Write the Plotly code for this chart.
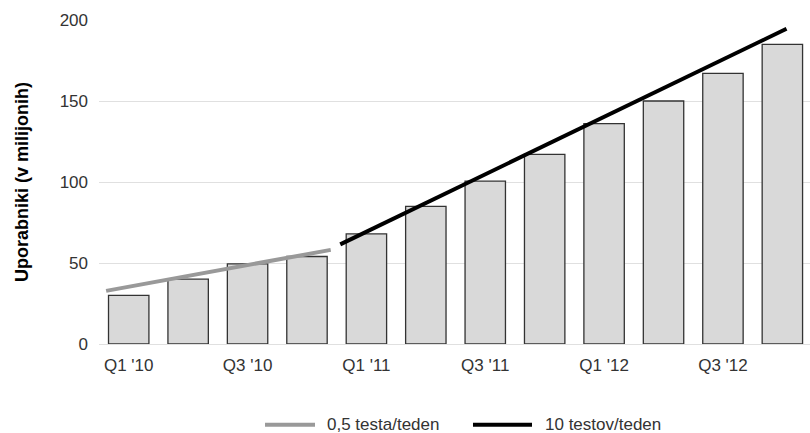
import plotly.graph_objects as go

quarters = ["Q1 '10", "Q2 '10", "Q3 '10", "Q4 '10",
            "Q1 '11", "Q2 '11", "Q3 '11", "Q4 '11",
            "Q1 '12", "Q2 '12", "Q3 '12", "Q4 '12"]
users = [30, 40, 49.5, 54, 68, 85, 100.5, 117, 136, 150, 167, 185]

# trend segments (quarter index, millions of users)
slow_name = "0,5 testa/teden"
slow_x = [-0.38, 3.40]
slow_y = [32.8, 58.1]
fast_name = "10 testov/teden"
fast_x = [3.56, 11.07]
fast_y = [61.5, 194.6]

tick_idx = list(range(0, len(quarters), 2))
tick_txt = [quarters[i] for i in tick_idx]

font = "Liberation Sans, Arial, sans-serif"
slow_color = "#999999"
fast_color = "#000000"

fig = go.Figure()
fig.add_trace(go.Bar(
    x=list(range(len(quarters))), y=users, width=0.68,
    marker=dict(color="#d9d9d9", line=dict(color="#333333", width=1.3)),
    showlegend=False, hoverinfo="skip",
))
fig.add_trace(go.Scatter(
    x=slow_x, y=slow_y, mode="lines", name=slow_name, showlegend=False,
    line=dict(color=slow_color, width=4),
))
fig.add_trace(go.Scatter(
    x=fast_x, y=fast_y, mode="lines", name=fast_name, showlegend=False,
    line=dict(color=fast_color, width=4),
))

# key below the plot: line sample + label for each trend
key_y = -0.249
for (x0, x1, tx, name, color) in [
    (0.2335, 0.3038, 0.318, slow_name, slow_color),
    (0.526, 0.609, 0.6245, fast_name, fast_color),
]:
    fig.add_shape(type="line", xref="paper", yref="paper",
                  x0=x0, x1=x1, y0=key_y, y1=key_y,
                  line=dict(color=color, width=4))
    fig.add_annotation(xref="paper", yref="paper", x=tx, y=key_y,
                       xanchor="left", yanchor="middle", showarrow=False,
                       text=name, font=dict(size=17, color="#333333"))

fig.update_layout(
    width=810, height=433,
    margin=dict(l=99, r=0, t=20, b=89, autoexpand=False),
    paper_bgcolor="white", plot_bgcolor="white",
    font=dict(family=font, size=16, color="#333333"),
    showlegend=False,
    xaxis=dict(range=[-0.5, 11.465], tickmode="array", tickvals=tick_idx,
               ticktext=tick_txt, showgrid=False, zeroline=False,
               showline=False, ticks="", ticklabelstandoff=9,
               tickfont=dict(size=17, color="#333333")),
    yaxis=dict(range=[0, 200], tickvals=[0, 50, 100, 150, 200],
               showgrid=True, gridcolor="#e0e0e0", gridwidth=1.3,
               zeroline=True, zerolinecolor="#e0e0e0", zerolinewidth=1.3,
               showline=False, ticks="", ticklabelstandoff=10,
               tickfont=dict(size=17, color="#333333"),
               title=dict(text="<b>Uporabniki (v milijonih)</b>", standoff=26,
                          font=dict(size=18, color="#000000"))),
)

fig.write_html("out.html")
